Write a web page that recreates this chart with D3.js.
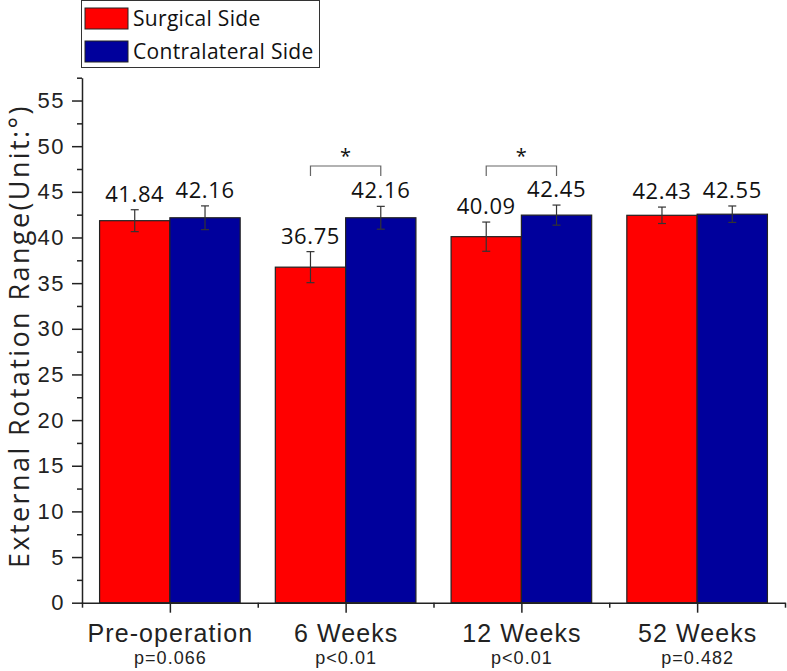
<!DOCTYPE html>
<html>
<head>
   <meta charset="UTF-8">
   <title>External Rotation Range</title>
   <style>
       body { margin: 0; overflow: hidden; background: white; }
       svg { background: white; font-family: "Open Sans", sans-serif; }
       .axis path, .axis line { stroke: #222; stroke-width: 1.5; }
       .axis text { fill: #222; }
   </style>
   <script src="https://cdnjs.cloudflare.com/ajax/libs/d3/7.8.5/d3.min.js"></script>
</head>
<body>
   <div id="chart"></div>
   <script>
       // data
       const categories = ["Pre-operation", "6 Weeks", "12 Weeks", "52 Weeks"];
       const pValues = ["p=0.066", "p<0.01", "p<0.01", "p=0.482"];
       const surgical = [41.84, 36.75, 40.09, 42.43];
       const surgicalErr = [1.2, 1.7, 1.6, 0.9];
       const contralateral = [42.16, 42.16, 42.45, 42.55];
       const contralateralErr = [1.3, 1.25, 1.1, 0.9];
       const significant = [false, true, true, false];
       const seriesNames = ["Surgical Side", "Contralateral Side"];
       const seriesColors = ["#ff0000", "#00009c"];
       const yTicks = [0, 5, 10, 15, 20, 25, 30, 35, 40, 45, 50, 55];
       const yMinorTicks = [2.5, 7.5, 12.5, 17.5, 22.5, 27.5, 32.5, 37.5, 42.5, 47.5, 52.5, 57.5];

       const width = 787, height = 671;
       const plotLeft = 82, plotRight = 785, plotTop = 77.7, plotBottom = 602.7;

       const svg = d3.select("#chart").append("svg")
           .attr("width", width)
           .attr("height", height);

       const x = d3.scaleBand()
           .domain(categories)
           .range([plotLeft, plotRight])
           .paddingInner(0.2)
           .paddingOuter(0.1);

       const xSub = d3.scaleBand()
           .domain([0, 1])
           .range([0, x.bandwidth()]);

       // linear helper for the minor x ticks between groups
       const xLin = d3.scaleLinear().domain([0.5, 4.5]).range([plotLeft, plotRight]);

       const y = d3.scaleLinear().domain([0, 57.5]).range([plotBottom, plotTop]);

       const rows = categories.map((c, i) => ({
           cat: c, i,
           vals: [
               {s: 0, v: surgical[i], e: surgicalErr[i]},
               {s: 1, v: contralateral[i], e: contralateralErr[i]}
           ]
       }));

       // bars
       const groups = svg.selectAll(".grp")
           .data(rows)
           .enter().append("g")
           .attr("class", "grp")
           .attr("transform", d => `translate(${x(d.cat)},0)`);

       groups.selectAll("rect")
           .data(d => d.vals)
           .enter().append("rect")
           .attr("x", d => xSub(d.s))
           .attr("y", d => y(d.v))
           .attr("width", xSub.bandwidth())
           .attr("height", d => y(0) - y(d.v))
           .style("fill", d => seriesColors[d.s])
           .style("stroke", "#222")
           .style("stroke-width", 1.2);

       // error bars
       const eb = groups.selectAll(".err")
           .data(d => d.vals)
           .enter().append("g")
           .attr("class", "err")
           .style("stroke", "#333")
           .style("stroke-width", 1.2);

       eb.append("line")
           .attr("x1", d => xSub(d.s) + xSub.bandwidth() / 2)
           .attr("x2", d => xSub(d.s) + xSub.bandwidth() / 2)
           .attr("y1", d => y(d.v + d.e))
           .attr("y2", d => y(d.v - d.e));
       [1, -1].forEach(sign => {
           eb.append("line")
               .attr("x1", d => xSub(d.s) + xSub.bandwidth() / 2 - 4)
               .attr("x2", d => xSub(d.s) + xSub.bandwidth() / 2 + 4)
               .attr("y1", d => y(d.v + sign * d.e))
               .attr("y2", d => y(d.v + sign * d.e));
       });

       // value labels
       groups.selectAll(".val")
           .data(d => d.vals)
           .enter().append("text")
           .attr("class", "val")
           .attr("x", d => xSub(d.s) + xSub.bandwidth() / 2)
           .attr("y", d => y(d.v + d.e) - 8)
           .attr("text-anchor", "middle")
           .style("font-size", "22px")
           .style("letter-spacing", "0.6px")
           .style("fill", "#111")
           .text(d => d.v.toFixed(2));

       // significance brackets
       const sig = groups.filter(d => significant[d.i]);
       const bTop = 166, bLeg = 176;
       sig.append("path")
           .attr("d", () => {
               const x1 = xSub(0) + xSub.bandwidth() / 2;
               const x2 = xSub(1) + xSub.bandwidth() / 2;
               return `M${x1},${bLeg}V${bTop}H${x2}V${bLeg}`;
           })
           .style("fill", "none")
           .style("stroke", "#666")
           .style("stroke-width", 1.2);
       sig.append("text")
           .attr("x", x.bandwidth() / 2)
           .attr("y", bTop - 3)
           .attr("text-anchor", "middle")
           .style("font-size", "20px")
           .style("fill", "#111")
           .text("*");

       // y axis
       svg.append("g")
           .attr("class", "axis")
           .attr("transform", `translate(${plotLeft},0)`)
           .call(d3.axisLeft(y).tickValues(yMinorTicks).tickSize(5).tickFormat(""))
           .call(g => g.select(".domain").remove());
       svg.append("g")
           .attr("class", "axis")
           .attr("transform", `translate(${plotLeft},0)`)
           .call(d3.axisLeft(y).tickValues(yTicks).tickSize(10).tickSizeOuter(0).tickPadding(7))
           .call(g => g.selectAll("text").style("font-size", "22px").style("letter-spacing", "1.5px"));

       // x axis
       svg.append("g")
           .attr("class", "axis")
           .attr("transform", `translate(0,${plotBottom})`)
           .call(d3.axisBottom(xLin).tickValues([0.5, 1.5, 2.5, 3.5, 4.5]).tickSize(5).tickFormat(""))
           .call(g => g.select(".domain").remove());
       const xAxis = svg.append("g")
           .attr("class", "axis")
           .attr("transform", `translate(0,${plotBottom})`)
           .call(d3.axisBottom(xLin).tickValues([1, 2, 3, 4]).tickSize(10).tickSizeOuter(0)
               .tickFormat(d => categories[d - 1]).tickPadding(12));
       xAxis.selectAll(".tick text")
           .style("font-size", "25px")
           .style("letter-spacing", "1.1px");
       xAxis.selectAll(".tick").append("text")
           .attr("y", 61)
           .attr("fill", "#222")
           .style("font-size", "18px")
           .style("letter-spacing", "1px")
           .text(d => pValues[d - 1]);

       // y title
       svg.append("text")
           .attr("transform", `translate(29,336) rotate(-90)`)
           .attr("text-anchor", "middle")
           .style("font-size", "27px")
           .style("letter-spacing", "2.4px")
           .style("fill", "#222")
           .text("External Rotation Range(Unit:°)");

       // legend
       const legend = svg.append("g");
       legend.append("rect")
           .attr("x", 81.5).attr("y", 0.5)
           .attr("width", 238).attr("height", 67)
           .style("fill", "white")
           .style("stroke", "#333");
       seriesNames.forEach((name, i) => {
           legend.append("rect")
               .attr("x", 85).attr("y", 8 + i * 33)
               .attr("width", 43).attr("height", 21)
               .style("fill", seriesColors[i])
               .style("stroke", "#222");
           legend.append("text")
               .attr("x", 133).attr("y", 26 + i * 33)
               .style("font-size", "21px")
               .style("letter-spacing", "0.3px")
               .style("fill", "#111")
               .text(name);
       });
   </script>
</body>
</html>
